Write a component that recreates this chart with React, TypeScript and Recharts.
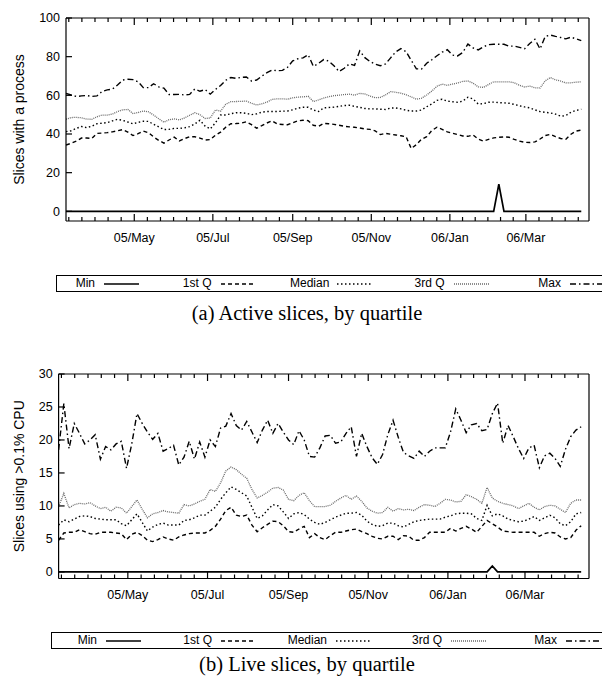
import { LineChart, Line, XAxis, YAxis, Label } from "recharts";

// day offsets counted from 2005-03-01
const DAYS = [
  8, 12, 16, 20, 24, 28, 32, 36, 40, 44,
  48, 52, 56, 60, 64, 68, 72, 76, 80, 84,
  88, 92, 96, 100, 104, 108, 112, 116, 120, 124,
  128, 132, 136, 140, 144, 148, 152, 156, 160, 164,
  168, 172, 176, 180, 184, 188, 192, 196, 200, 204,
  208, 212, 216, 220, 224, 228, 232, 236, 240, 244,
  248, 252, 256, 260, 264, 268, 272, 276, 280, 284,
  288, 292, 296, 300, 304, 308, 312, 316, 320, 324,
  328, 332, 336, 340, 344, 348, 352, 356, 360, 364,
  368, 372, 376, 380, 384, 388, 392, 396, 400, 404, 408,
];

const MAJOR_DAYS = [61, 122, 184, 245, 306, 365];
const MAJOR_LABELS = ["05/May", "05/Jul", "05/Sep", "05/Nov", "06/Jan", "06/Mar"];
const SERIES_NAMES = ["Min", "1st Q", "Median", "3rd Q", "Max"];

const ACTIVE_Y_TICKS = [0, 20, 40, 60, 80, 100];
const LIVE_Y_TICKS = [0, 5, 10, 15, 20, 25, 30];

const ACTIVE_MIN = [
  0, 0, 0, 0, 0, 0, 0, 0, 0, 0,
  0, 0, 0, 0, 0, 0, 0, 0, 0, 0,
  0, 0, 0, 0, 0, 0, 0, 0, 0, 0,
  0, 0, 0, 0, 0, 0, 0, 0, 0, 0,
  0, 0, 0, 0, 0, 0, 0, 0, 0, 0,
  0, 0, 0, 0, 0, 0, 0, 0, 0, 0,
  0, 0, 0, 0, 0, 0, 0, 0, 0, 0,
  0, 0, 0, 0, 0, 0, 0, 0, 0, 0,
  0, 0, 0, 0, 14, 0, 0, 0, 0, 0,
  0, 0, 0, 0, 0, 0, 0, 0, 0, 0, 0,
];
const ACTIVE_Q1 = [
  34.3, 35.2, 36.3, 37.9, 37.9, 37.7, 40.3, 40.5, 40.7, 41.1,
  41.7, 42.3, 41, 39.2, 40.2, 41.5, 40.7, 38.5, 36.7, 35.3,
  36.9, 38.4, 36.4, 37.6, 38.6, 38.6, 37.9, 36.9, 37.1, 39.4,
  41, 43.5, 45.3, 45.4, 45.6, 46.3, 44.8, 43, 44.3, 45.7,
  46.8, 45.2, 44.9, 44.8, 45.8, 46.8, 47.1, 46.9, 44.5, 44,
  45.5, 45.3, 45, 44.5, 44, 43.7, 43.5, 43.1, 42.6, 42.4,
  41.6, 39.7, 40.3, 39.9, 39.5, 39.1, 38.6, 32.5, 34.5, 37.3,
  38.6, 41.8, 43.5, 42.4, 41.1, 40.4, 39.7, 39, 38.8, 39.5,
  37.4, 36.3, 37.2, 38, 38.3, 38.5, 38.3, 37.2, 36.3, 35.7,
  35.6, 35.9, 37.4, 39.2, 39.8, 38.6, 37.7, 37.3, 39.9, 41.5, 42,
];
const ACTIVE_MEDIAN = [
  41.2, 41.7, 42.9, 43.9, 43.3, 44, 45.3, 45.6, 45.9, 46.8,
  47.6, 47.1, 46.2, 45.3, 46, 46.6, 46.5, 45, 43.7, 42.3,
  42.4, 42.9, 42.9, 43.2, 43.8, 45.2, 47.1, 44.1, 42.6, 45.8,
  49.8, 49.8, 50.5, 51, 51, 50.7, 50, 50.4, 51.3, 51.6,
  51.6, 51.6, 51.8, 51.9, 52.5, 53.4, 53.8, 53.8, 52.4, 51.6,
  53.5, 53.7, 53.9, 54.3, 54.7, 54.9, 54.3, 53.8, 53.2, 53,
  53, 52.8, 52.7, 53.4, 53.5, 53, 52.3, 51.9, 51.9, 52.4,
  54.1, 55.6, 57.4, 58, 57, 56.7, 56.4, 57, 59, 58.1,
  55.5, 55.7, 56.4, 56.5, 56.2, 56.1, 55.9, 55.3, 54.6, 54,
  53.5, 52.5, 51.6, 51.2, 50.9, 50.3, 49.2, 49.5, 51.3, 52.2, 52.8,
];
const ACTIVE_Q3 = [
  47.6, 48.5, 48.6, 48.4, 47.7, 47.6, 48.9, 49.8, 49.8, 50.3,
  51.6, 52.5, 52.7, 50.6, 51.1, 51.9, 51.5, 49.8, 47.9, 46.1,
  47.4, 47.8, 47.3, 48.3, 49.7, 51, 50, 48, 48.3, 52.4,
  51.8, 55.4, 56.7, 56.8, 56.9, 57, 55.9, 55, 55.6, 56.5,
  57.9, 58.2, 58.2, 58, 58.7, 59.1, 59.2, 59.5, 56.8, 57.6,
  58.6, 59.3, 59.8, 60.1, 60.4, 60.6, 60.1, 61, 60.7, 59.6,
  58.8, 58.9, 60.2, 61.9, 61.6, 61.1, 60.3, 59.2, 58, 58.5,
  60.2, 62.2, 64.7, 65.8, 65.1, 65.8, 66.4, 67.2, 67.4, 66.3,
  64.4, 64.1, 65.6, 67, 67, 67, 67, 66.5, 65.2, 64.3,
  64.8, 63.9, 63.8, 67.5, 69.2, 68, 67.4, 66.4, 66.5, 66.8, 67,
];
const ACTIVE_MAX = [
  61, 60.2, 59.4, 59.7, 59.9, 59.4, 59.7, 62, 62.8, 63.2,
  65.3, 67.9, 68.3, 68.1, 67, 64, 64, 66, 64.4, 63.7,
  60.4, 60.4, 60.5, 60.2, 60.5, 63.3, 62.1, 63, 60.6, 63,
  65.1, 67.8, 69.2, 68.8, 69.3, 69.5, 67.4, 67.9, 69.9, 71.7,
  73.1, 72.7, 72.9, 74.5, 77.8, 78.9, 79.4, 81, 75, 76.5,
  78.5, 77.7, 75.3, 72.3, 74, 76.3, 75.5, 83, 79.5, 77.5,
  76.1, 75.3, 76.2, 79.4, 82.5, 84.2, 82.6, 78.1, 73.7, 73.6,
  76.6, 78.4, 80.5, 82.3, 83.6, 80.8, 80.4, 82.2, 86.5, 84.5,
  83.5, 85.1, 86.2, 86.4, 86.4, 86.4, 85.4, 85.5, 84.8, 84.1,
  86.8, 89, 84, 90.5, 91.2, 90.5, 89.9, 89.2, 90.1, 89.2, 88.3,
];

const LIVE_MIN = [
  0, 0, 0, 0, 0, 0, 0, 0, 0, 0,
  0, 0, 0, 0, 0, 0, 0, 0, 0, 0,
  0, 0, 0, 0, 0, 0, 0, 0, 0, 0,
  0, 0, 0, 0, 0, 0, 0, 0, 0, 0,
  0, 0, 0, 0, 0, 0, 0, 0, 0, 0,
  0, 0, 0, 0, 0, 0, 0, 0, 0, 0,
  0, 0, 0, 0, 0, 0, 0, 0, 0, 0,
  0, 0, 0, 0, 0, 0, 0, 0, 0, 0,
  0, 0, 0, 0.9, 0, 0, 0, 0, 0, 0,
  0, 0, 0, 0, 0, 0, 0, 0, 0, 0, 0,
];
const LIVE_Q1 = [
  4.8, 5.9, 6, 6, 6.4, 6.1, 5.8, 5.7, 6, 6,
  6, 5.9, 5.8, 4.9, 5.7, 6, 5.5, 4.8, 4.6, 4.9,
  5.3, 5, 4.8, 5.3, 5.6, 5.8, 5.9, 5.9, 5.9, 6.3,
  6.9, 8, 9.3, 9.8, 8.6, 8.4, 8.6, 7.1, 6.1, 6.7,
  7.2, 7.7, 7.6, 7, 6.1, 6, 6.5, 6.9, 5.2, 5.8,
  5.2, 4.9, 5.5, 6, 6, 6.2, 6.4, 6.5, 6.1, 5.8,
  5.4, 5.1, 5, 5.4, 5.4, 4.9, 5.5, 5.4, 4.8, 4.8,
  5.2, 6, 6, 6, 6, 6.6, 6.2, 6.6, 6.9, 6.5,
  6, 6.9, 7.8, 7.3, 6.8, 6.2, 6.1, 6, 6, 6,
  6, 6, 5.4, 5.8, 6, 5.9, 5.3, 5, 5.2, 6.3, 7,
];
const LIVE_MEDIAN = [
  7.1, 7.9, 7.6, 8, 8.4, 8.5, 8.4, 8.1, 8, 7.9,
  7.9, 7.9, 7.3, 7, 7.9, 8.8, 7.5, 6.2, 6.8, 7.2,
  7.4, 7.1, 7.1, 7.1, 7.8, 7.9, 8.2, 8.6, 8.6, 9.2,
  9.8, 11, 12, 12.9, 12.5, 12, 11.5, 9.8, 8.1, 8.5,
  9.4, 10.2, 10, 9.1, 8.1, 8.8, 9, 8.7, 8, 7.5,
  7.2, 7.5, 7.9, 8.3, 8.6, 8.9, 8.9, 9, 8.6, 7.7,
  7.2, 6.9, 7, 7.4, 7.4, 7, 6.8, 7.2, 7.6, 7.8,
  7.9, 8, 8, 8, 8.3, 8.5, 8.8, 8.9, 8.9, 8.8,
  8.1, 7.8, 10.1, 8.5, 8.8, 8.5, 8, 7.8, 7.6, 7.7,
  8, 8.4, 7.8, 8.2, 8.6, 8.2, 7.3, 7, 7.6, 8.8, 9,
];
const LIVE_Q3 = [
  9.9, 11.9, 9.7, 10.2, 10.4, 10.3, 10.5, 10, 9.6, 9.8,
  9.2, 9.8, 9.7, 8.9, 9.9, 10.9, 9.5, 8.2, 8.8, 9,
  9.3, 9.1, 9, 8.9, 10.2, 10, 10.3, 10.7, 11, 12.5,
  12.2, 13.5, 15.3, 15.9, 15.5, 14.8, 14.2, 12.5, 11.2, 11.6,
  12.1, 12.7, 12.8, 12.4, 11, 10.8, 11.6, 12, 10.8, 9.9,
  9.9, 9.9, 10.1, 10.7, 11.2, 11.6, 11, 11.5, 10.7, 9.7,
  9.2, 8.9, 9, 9.8, 9.2, 9.6, 9.4, 9.5, 9.3, 9.8,
  10.2, 10.1, 9.9, 10.4, 11, 10.9, 10.6, 10.7, 11.7, 11.4,
  11, 10.4, 12.8, 11.2, 10.7, 10.4, 10.2, 10, 9.6, 10,
  10.4, 9.8, 9.4, 9.9, 10.1, 10, 9.5, 9, 10.4, 10.9, 10.9,
];
const LIVE_MAX = [
  18.5, 25.5, 18.7, 22.5, 21, 19.4, 20, 20.8, 17.1, 19,
  18.5, 19.4, 19.8, 15.7, 19.4, 24, 22.5, 21.2, 20.1, 21,
  18.3, 18.7, 19.2, 16.2, 17.4, 19.8, 17.1, 19.7, 17.4, 20,
  19, 21.8, 22.1, 24, 22.2, 21.5, 22.8, 21.2, 19.6, 21.5,
  23, 21, 22.5, 21.2, 20, 19.3, 21.4, 20, 17.5, 17.4,
  18.8, 20.6, 20.7, 19.5, 19.7, 21, 22, 17.5, 21, 19,
  17.3, 16.3, 17.8, 20.8, 23, 20.4, 18.1, 17.6, 17.2, 18.3,
  17.5, 18.3, 18.8, 18.8, 18.8, 21.2, 24.7, 23, 21.1, 22.3,
  22.5, 21.4, 21.6, 24, 25.6, 19.5, 22.2, 20.5, 18.7, 17.2,
  18.8, 19.2, 15.8, 17.6, 18, 17.2, 16, 18.6, 20.5, 21.5, 22,
];

const X_DOMAIN = [8, 414];
const SANS = "'Liberation Sans', Arial, Helvetica, sans-serif";
const SERIF = "'Liberation Serif', 'Times New Roman', serif";
const KEYS = ["min", "q1", "med", "q3", "max"];

const LINE_STYLES = [
  { stroke: "#000", width: 1.7, dash: undefined as string | undefined },
  { stroke: "#000", width: 1.4, dash: "4 3" },
  { stroke: "#000", width: 1.4, dash: "1.5 2.5" },
  { stroke: "#6a6a6a", width: 1.3, dash: "1 1" },
  { stroke: "#000", width: 1.4, dash: "6 3 1.5 3" },
];

// minor ticks: six divisions of each two-month interval
const MINOR_DAYS: number[] = (() => {
  const bounds = [0, ...MAJOR_DAYS, 426];
  const out: number[] = [];
  for (let i = 0; i < bounds.length - 1; i++) {
    for (let k = 1; k < 6; k++) {
      const d = bounds[i] + ((bounds[i + 1] - bounds[i]) * k) / 6;
      if (d > X_DOMAIN[0] && d < X_DOMAIN[1]) out.push(d);
    }
  }
  return out;
})();
const X_TICKS = [...MINOR_DAYS, ...MAJOR_DAYS].sort((a, b) => a - b);

const makeRows = (series: number[][]) =>
  DAYS.map((day, i) => {
    const row: Record<string, number> = { day };
    KEYS.forEach((k, j) => (row[k] = series[j][i]));
    return row;
  });

const ACTIVE_ROWS = makeRows([ACTIVE_MIN, ACTIVE_Q1, ACTIVE_MEDIAN, ACTIVE_Q3, ACTIVE_MAX]);
const LIVE_ROWS = makeRows([LIVE_MIN, LIVE_Q1, LIVE_MEDIAN, LIVE_Q3, LIVE_MAX]);

const tickStyle = { fontSize: 12.5, fill: "#000", fontFamily: SANS };
const frame = { stroke: "#000", strokeWidth: 1.2 };

// x tick: inward tick mark (long on months, short between) plus month label at the bottom
const makeXTick = (side: "top" | "bottom") => (props: any) => {
  const { x, y, payload } = props;
  const idx = MAJOR_DAYS.indexOf(payload.value);
  const len = idx >= 0 ? 7 : 4;
  const y2 = side === "bottom" ? y - len : y + len;
  return (
    <g>
      <line x1={x} x2={x} y1={y} y2={y2} stroke="#000" strokeWidth={1.2} />
      {side === "bottom" && idx >= 0 && (
        <text x={x} y={y + 12} dy="0.71em" textAnchor="middle" {...tickStyle}>
          {MAJOR_LABELS[idx]}
        </text>
      )}
    </g>
  );
};
const bottomTick = makeXTick("bottom");
const topTick = makeXTick("top");

interface PanelProps {
  top: number;
  height: number;
  margin: { top: number; right: number; bottom: number; left: number };
  yAxisWidth: number;
  rows: Record<string, number>[];
  yDomain: number[];
  yTicks: number[];
  yLabel: string;
  yLabelX: number;
  legendLeft: number;
  legendTop: number;
  itemStep: number;
  textWidth: number;
  caption: string;
  captionY: number;
}

function Panel(p: PanelProps) {
  const yLabelContent = (props: any) => {
    const vb = props.viewBox || {};
    const cx = p.yLabelX;
    const cy = vb.y + vb.height / 2;
    return (
      <text
        x={cx}
        y={cy}
        transform={`rotate(-90 ${cx} ${cy})`}
        textAnchor="middle"
        dominantBaseline="central"
        fontSize={14}
        fontFamily={SANS}
        fill="#000"
      >
        {p.yLabel}
      </text>
    );
  };

  return (
    <>
      <div style={{ position: "absolute", left: 0, top: p.top }}>
        <LineChart width={602} height={p.height} data={p.rows} margin={p.margin}>
          <XAxis
            xAxisId="main"
            dataKey="day"
            type="number"
            domain={X_DOMAIN}
            allowDataOverflow
            ticks={X_TICKS}
            interval={0}
            height={30}
            tickSize={0}
            tickMargin={0}
            tickLine={false}
            axisLine={frame}
            tick={bottomTick}
          />
          <XAxis
            xAxisId="top"
            orientation="top"
            dataKey="day"
            type="number"
            domain={X_DOMAIN}
            allowDataOverflow
            ticks={X_TICKS}
            interval={0}
            height={1}
            tickSize={0}
            tickMargin={0}
            tickLine={false}
            axisLine={frame}
            tick={topTick}
          />
          <YAxis
            yAxisId="main"
            type="number"
            domain={p.yDomain}
            allowDataOverflow
            ticks={p.yTicks}
            interval={0}
            width={p.yAxisWidth}
            tickSize={-6}
            tickMargin={12}
            tickLine={frame}
            axisLine={frame}
            tick={tickStyle}
          >
            <Label content={yLabelContent} />
          </YAxis>
          <YAxis
            yAxisId="right"
            orientation="right"
            type="number"
            domain={p.yDomain}
            allowDataOverflow
            ticks={p.yTicks}
            interval={0}
            width={1}
            tick={false}
            tickSize={-6}
            tickLine={frame}
            axisLine={frame}
          />
          {KEYS.map((k, i) => (
            <Line
              key={k}
              xAxisId="main"
              yAxisId="main"
              type="linear"
              dataKey={k}
              name={SERIES_NAMES[i]}
              stroke={LINE_STYLES[i].stroke}
              strokeWidth={LINE_STYLES[i].width}
              strokeDasharray={LINE_STYLES[i].dash}
              dot={false}
              activeDot={false}
              isAnimationActive={false}
            />
          ))}
        </LineChart>
      </div>
      <div
        style={{
          position: "absolute",
          left: p.legendLeft,
          top: p.legendTop,
          width: 580,
          height: 17,
          border: "1.2px solid #000",
          boxSizing: "border-box",
          fontFamily: SANS,
          fontSize: 12,
        }}
      >
        {SERIES_NAMES.map((name, i) => (
          <div
            key={name}
            style={{
              position: "absolute",
              left: i * p.itemStep,
              top: 0,
              height: 15,
              display: "flex",
              alignItems: "center",
            }}
          >
            <span style={{ width: p.textWidth, textAlign: "right", lineHeight: "15px" }}>{name}</span>
            <svg width={44} height={10} style={{ marginLeft: 9 }}>
              <line
                x1={0}
                y1={5}
                x2={35}
                y2={5}
                stroke={LINE_STYLES[i].stroke}
                strokeWidth={LINE_STYLES[i].width}
                strokeDasharray={LINE_STYLES[i].dash}
              />
            </svg>
          </div>
        ))}
      </div>
      <div
        style={{
          position: "absolute",
          left: 107,
          width: 400,
          top: p.captionY - 12,
          height: 24,
          lineHeight: "24px",
          textAlign: "center",
          fontFamily: SERIF,
          fontSize: 20.5,
          color: "#000",
        }}
      >
        {p.caption}
      </div>
    </>
  );
}

export default function App() {
  return (
    <div
      style={{
        position: "relative",
        width: 602,
        height: 679,
        overflow: "hidden",
        background: "#fff",
      }}
    >
      <style>{"body{margin:0;overflow:hidden;background:#fff}"}</style>
      <Panel
        top={0}
        height={340}
        margin={{ top: 17, right: 12, bottom: 89, left: 0 }}
        yAxisWidth={66}
        rows={ACTIVE_ROWS}
        yDomain={[-5, 100]}
        yTicks={ACTIVE_Y_TICKS}
        yLabel="Slices with a process"
        yLabelX={19}
        legendLeft={56}
        legendTop={275}
        itemStep={116.5}
        textWidth={38}
        caption="(a) Active slices, by quartile"
        captionY={313}
      />
      <Panel
        top={340}
        height={339}
        margin={{ top: 33, right: 12, bottom: 70.5, left: 0 }}
        yAxisWidth={58.6}
        rows={LIVE_ROWS}
        yDomain={[-1, 30]}
        yTicks={LIVE_Y_TICKS}
        yLabel="Slices using >0.1% CPU"
        yLabelX={18.5}
        legendLeft={51}
        legendTop={632}
        itemStep={115}
        textWidth={45}
        caption="(b) Live slices, by quartile"
        captionY={664}
      />
    </div>
  );
}
